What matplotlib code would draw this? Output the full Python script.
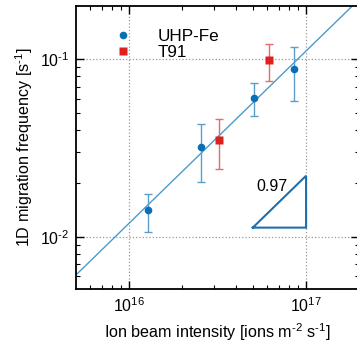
import numpy as np
import matplotlib
matplotlib.use("Agg")
import matplotlib.pyplot as plt

plt.rcParams['font.family'] = ['Liberation Sans', 'DejaVu Sans']
plt.rcParams['mathtext.fontset'] = 'custom'
plt.rcParams['mathtext.rm'] = 'Liberation Sans'
plt.rcParams['mathtext.it'] = 'Liberation Sans'

# Data
uhp_x = [1.28e16, 2.54e16, 5.10e16, 8.50e16]
uhp_y = [0.0142, 0.0319, 0.0608, 0.0878]
uhp_lo = [0.01067, 0.0203, 0.0479, 0.0582]
uhp_hi = [0.0175, 0.0430, 0.0738, 0.1174]

t91_x = [3.20e16, 6.20e16]
t91_y = [0.0350, 0.0983]
t91_lo = [0.0241, 0.0752]
t91_hi = [0.0460, 0.1220]

fit_slope = 0.97
fit_logA = -17.444
slope_label = "0.97"

fig = plt.figure(figsize=(3.57, 3.46), dpi=100)
ax = fig.add_axes([0.213, 0.165, 0.793, 0.818])

blue = '#0b6fb5'
blue_light = '#5a9fcc'
red = '#e0201e'
red_light = '#e86a6a'

xf = np.logspace(15.6, 17.4, 50)
ax.plot(xf, 10**fit_logA * xf**fit_slope, color='#4a9ccb', lw=1.0, zorder=2)

ux = np.array(uhp_x); uy = np.array(uhp_y)
ax.errorbar(ux, uy, yerr=[uy - np.array(uhp_lo), np.array(uhp_hi) - uy],
            fmt='none', ecolor=blue_light, elinewidth=1.0, capsize=3, capthick=1.0, zorder=3)
tx = np.array(t91_x); ty = np.array(t91_y)
ax.errorbar(tx, ty, yerr=[ty - np.array(t91_lo), np.array(t91_hi) - ty],
            fmt='none', ecolor=red_light, elinewidth=1.0, capsize=3, capthick=1.0, zorder=3)
ax.plot(ux, uy, 'o', color=blue, ms=5.5, mec='none', label='UHP-Fe', zorder=4)
ax.plot(tx, ty, 's', color=red, ms=5.3, mec='none', label='T91', zorder=4)

# slope triangle
x0, x1 = 5e16, 1e17
y0 = 0.01125
y1 = y0 * (x1 / x0) ** fit_slope
ax.plot([x0, x1, x1, x0], [y0, y0, y1, y0], color='#1f6fae', lw=1.5, zorder=3,
        solid_joinstyle='miter')
ax.text(7.9e16, 0.0192, slope_label, ha='right', va='center', fontsize=11.5)

ax.set_xscale('log')
ax.set_yscale('log')
ax.set_xlim(10**15.70, 10**17.30)
ax.set_ylim(10**-2.294, 10**-0.70)
ax.set_xticks([1e16, 1e17])
ax.set_yticks([1e-2, 1e-1])
ax.set_xticklabels(['$10^{16}$', '$10^{17}$'])
ax.set_yticklabels([r'$10^{\text{-}2}$', r'$10^{\text{-}1}$'])
ax.tick_params(which='both', direction='in', top=True, right=True, labelsize=11.5)
ax.tick_params(which='major', length=6, width=1, pad=5)
ax.tick_params(which='minor', length=3, width=0.8)
ax.grid(True, which='major', ls=':', color='#999999', lw=0.9)
for s in ax.spines.values():
    s.set_linewidth(1.3)

ax.set_xlabel(r'Ion beam intensity [ions m$^{\text{-}2}$ s$^{\text{-}1}$]', fontsize=11.6, labelpad=5)
ax.set_ylabel(r'1D migration frequency [s$^{\text{-}1}$]', fontsize=11.6, labelpad=3)

ax.legend(loc='upper left', frameon=False, fontsize=12.3, handletextpad=1.5,
          handlelength=1.0, borderaxespad=0.0, bbox_to_anchor=(0.113, 0.944),
          labelspacing=0.1)

fig.savefig('out.png', dpi=100)
